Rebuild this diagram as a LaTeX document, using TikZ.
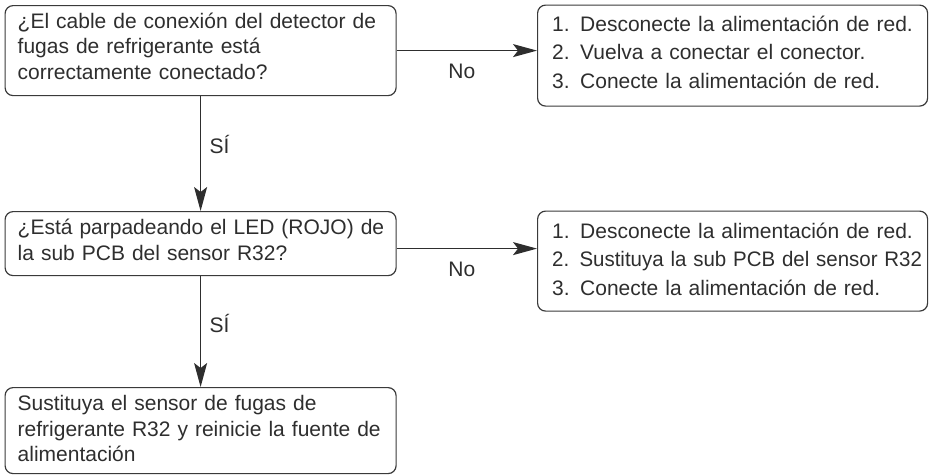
\documentclass[tikz,border=0pt]{standalone}
\usepackage{fontspec}
\usepackage{graphicx}
\setmainfont{Liberation Sans}
\usetikzlibrary{arrows.meta}
\definecolor{ink}{HTML}{2E2E2E}
\definecolor{frame}{HTML}{3A3A3A}
\begin{document}
\begin{tikzpicture}[x=1pt,y=-1pt,
  box/.style={draw=frame, line width=1.2pt, rounded corners=8pt, anchor=north west, inner sep=0pt},
  txt/.style={anchor=north west, inner sep=0pt, align=left, text width=400pt, text=ink, font=\fontsize{21}{25.5}\selectfont},
  listtxt/.style={txt, font=\fontsize{21}{28.5}\selectfont},
  arr/.style={draw=ink, line width=1.3pt, -{Stealth[length=24pt,width=13pt,inset=5pt]}},
  lbl/.style={inner sep=0pt, text=ink, font=\fontsize{21}{25}\selectfont}]
\useasboundingbox (0,0) rectangle (930,475);
% boxes
\node[box, minimum width=391pt, minimum height=90pt] (q1) at (4.5,5) {};
\node[box, minimum width=391pt, minimum height=64pt] (q2) at (4.5,211) {};
\node[box, minimum width=391pt, minimum height=86pt] (q3) at (4.5,387) {};
\node[box, minimum width=390pt, minimum height=101pt] (a1) at (537,4.5) {};
\node[box, minimum width=390pt, minimum height=100pt] (a2) at (537,210.5) {};
% texts (first line strut 20pt above its baseline)
\node[txt] (t1) at (17.5,8) {\rule{0pt}{20pt}¿El cable de conexión del detector de\\fugas de refrigerante está\\correctamente conectado?};
\node[txt] (t2) at (17.5,214.7) {\rule{0pt}{20pt}¿Está parpadeando el LED (ROJO) de\\la sub PCB del sensor R32?};
\node[txt] (t3) at (17.5,390.3) {\rule{0pt}{20pt}Sustituya el sensor de fugas de\\refrigerante R32 y reinicie la fuente de\\alimentación};
\node[listtxt] (l1) at (552,11) {\rule{0pt}{20pt}1. Desconecte la alimentación de red.\\2. Vuelva a conectar el conector.\\3. Conecte la alimentación de red.};
\node[listtxt] (l2) at (552,218) {\rule{0pt}{20pt}1. Desconecte la alimentación de red.\\\scalebox{0.975}[1]{2. Sustituya la sub PCB del sensor R32}\\3. Conecte la alimentación de red.};
% connectors
\draw[arr] (q1.east) -- (q1.east -| a1.west) node[lbl, midway, xshift=-5pt, yshift=-21pt] (n1) {No};
\draw[arr] ([yshift=-5pt]q2.east) -- ([yshift=-5pt]q2.east -| a2.west) node[lbl, midway, xshift=-5pt, yshift=-21pt] (n2) {No};
\draw[arr] (q1.south) -- (q2.north) node[lbl, midway, xshift=19pt, yshift=9pt] (s1) {SÍ};
\draw[arr] (q2.south) -- (q3.north) node[lbl, midway, xshift=19pt, yshift=8pt] (s2) {SÍ};
\end{tikzpicture}
\end{document}
